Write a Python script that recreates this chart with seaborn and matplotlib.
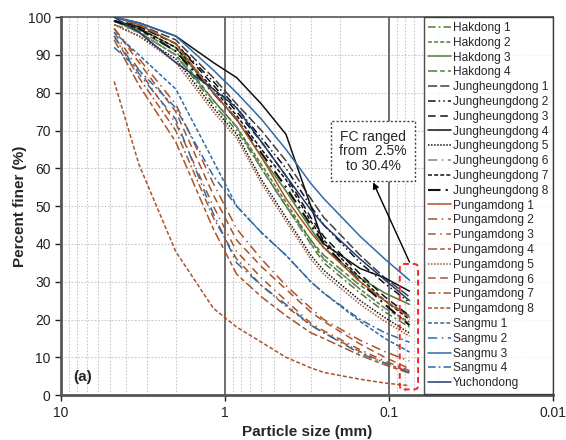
import numpy as np
import pandas as pd
import matplotlib
matplotlib.use("Agg")
import matplotlib.pyplot as plt
import seaborn as sns
from matplotlib.patches import FancyBboxPatch
from matplotlib.transforms import IdentityTransform

# ---------------- data ----------------
sizes = [4.75, 3.35, 2.0, 1.18, 0.85, 0.6, 0.425, 0.3, 0.25, 0.15, 0.106, 0.075]  # mm

hakdong_1 = [99, 96, 90, 77, 70, 60, 50, 40, 35, 27, 22, 18]
hakdong_2 = [99, 96, 90, 78, 71, 61, 51, 41, 36, 28, 23, 19.3]
hakdong_3 = [99, 97, 92, 80, 73, 63, 54, 44, 39, 31, 27, 24]
hakdong_4 = [99, 96.5, 91, 78, 71, 60, 50, 41, 37, 29, 25, 21]
jung_1 = [99, 98, 94, 84, 77, 70, 62, 52, 47, 37, 31, 26]
jung_2 = [99, 97.5, 93, 83, 76, 68, 60, 50, 45, 35, 29.5, 24.5]
jung_3 = [99, 97.5, 93, 82, 75, 67, 58, 47, 42, 32, 26, 21]
jung_4 = [100, 98.5, 95, 88, 84, 77, 69, 50, 40, 33.5, 31, 27.5]
jung_5 = [98, 95, 89, 76, 69, 57, 47, 37, 33, 25, 20.5, 16.4]
jung_6 = [98, 96, 90, 78, 71, 60, 50, 40, 36, 28, 23, 19]
jung_7 = [99, 97, 92, 81, 74, 65, 57, 46, 41, 31, 25, 20]
jung_8 = [99, 97, 91, 80, 73, 64, 55, 45, 40, 30, 24, 18.5]
pung_1 = [100, 98, 93, 80, 73, 63, 52, 43, 39, 30, 25, 20.6]
pung_2 = [97, 89, 77, 56, 44, 36, 29, 23, 20, 14.5, 11.5, 9]
pung_3 = [96, 86, 72, 50, 38, 31, 25, 19, 17, 12, 9, 6.5]
pung_4 = [94, 82, 67, 44, 32, 26, 21, 16.5, 15, 10.5, 8, 5.8]
pung_5 = [98, 95, 88, 75, 68, 56, 46, 36, 32, 24, 19.5, 15.6]
pung_6 = [97, 88, 75, 53, 41, 34, 28, 22, 19.5, 13.5, 10, 7]
pung_7 = [95, 84, 70, 47, 36, 29, 23.5, 18.5, 16.5, 11.5, 8.5, 6.1]
pung_8 = [83, 61, 38, 23, 18, 14, 10, 7.2, 6, 4.2, 3.2, 2.5]
sangmu_1 = [96, 90, 81, 62, 50, 43, 37, 30, 27, 19.5, 15, 11.4]
sangmu_2 = [95, 85, 73, 48, 35, 29, 24, 18.5, 16.5, 11, 8.5, 6]
sangmu_3 = [100, 98.5, 95, 86, 80, 73, 65, 56, 52, 42, 36, 30.4]
sangmu_4 = [92, 86, 76, 58, 50, 43, 37, 30, 27, 20, 16.5, 14]
yuchondong = [100, 96, 88, 81, 76, 67, 58, 49, 45, 36, 30.5, 25]

names = ["Hakdong 1", "Hakdong 2", "Hakdong 3", "Hakdong 4",
         "Jungheungdong 1", "Jungheungdong 2", "Jungheungdong 3", "Jungheungdong 4",
         "Jungheungdong 5", "Jungheungdong 6", "Jungheungdong 7", "Jungheungdong 8",
         "Pungamdong 1", "Pungamdong 2", "Pungamdong 3", "Pungamdong 4",
         "Pungamdong 5", "Pungamdong 6", "Pungamdong 7", "Pungamdong 8",
         "Sangmu 1", "Sangmu 2", "Sangmu 3", "Sangmu 4", "Yuchondong"]
values = [hakdong_1, hakdong_2, hakdong_3, hakdong_4,
          jung_1, jung_2, jung_3, jung_4, jung_5, jung_6, jung_7, jung_8,
          pung_1, pung_2, pung_3, pung_4, pung_5, pung_6, pung_7, pung_8,
          sangmu_1, sangmu_2, sangmu_3, sangmu_4, yuchondong]

x_ticks = [10, 1, 0.1, 0.01]
x_tick_labels = ["10", "1", "0.1", "0.01"]
y_ticks = list(range(0, 101, 10))
fc_min, fc_max = 2.5, 30.4

# ---------------- styles ----------------
GREEN = "#4F7F2E"
BLACK = "#111111"
GRAY = "#808080"
BROWN = "#A9542A"
BLUE = "#2F6AA6"
NAVY = "#1F3A6E"

SOLID = "-"
styles = {
    "Hakdong 1": (GREEN, (0, (5, 2, 1.2, 2))),
    "Hakdong 2": (GREEN, (0, (2.6, 1.4))),
    "Hakdong 3": (GREEN, SOLID),
    "Hakdong 4": (GREEN, (0, (6, 2, 3, 2))),
    "Jungheungdong 1": ("#404040", (0, (6, 2))),
    "Jungheungdong 2": (BLACK, (0, (5, 2, 1, 2, 1, 2))),
    "Jungheungdong 3": (BLACK, (0, (5, 3))),
    "Jungheungdong 4": (BLACK, SOLID),
    "Jungheungdong 5": (BLACK, (0, (1, 1))),
    "Jungheungdong 6": (GRAY, (0, (6, 3, 1, 3))),
    "Jungheungdong 7": (BLACK, (0, (2.6, 1.4))),
    "Jungheungdong 8": (BLACK, (0, (6, 2.5, 1, 2.5))),
    "Pungamdong 1": (BROWN, SOLID),
    "Pungamdong 2": (BROWN, (0, (6, 3, 1, 3))),
    "Pungamdong 3": (BROWN, (0, (5, 3, 1, 3))),
    "Pungamdong 4": (BROWN, (0, (6, 2, 3, 2))),
    "Pungamdong 5": (BROWN, (0, (1, 1))),
    "Pungamdong 6": (BROWN, (0, (5, 3))),
    "Pungamdong 7": (BROWN, (0, (5, 2, 1.2, 2))),
    "Pungamdong 8": (BROWN, (0, (2.6, 1.4))),
    "Sangmu 1": (BLUE, (0, (2.6, 1.4))),
    "Sangmu 2": (BLUE, (0, (6, 3, 1, 3))),
    "Sangmu 3": (BLUE, SOLID),
    "Sangmu 4": (BLUE, (0, (5, 2, 1.2, 2))),
    "Yuchondong": (NAVY, SOLID),
}

rows = []
for n, v in zip(names, values):
    for s, f in zip(sizes, v):
        rows.append({"size": s, "finer": f, "site": n})
df = pd.DataFrame(rows)

# ---------------- figure ----------------
sns.set_theme(style="white")
plt.rcParams["font.family"] = ["Liberation Sans", "DejaVu Sans"]

fig = plt.figure(figsize=(5.66, 4.40), dpi=100)
ax = fig.add_axes([0.108, 0.102, 0.869, 0.859])
ax.set_xscale("log")

for n in names:
    c, ls = styles[n]
    lw = 1.5 if n == "Jungheungdong 8" else 1.1
    sns.lineplot(data=df[df["site"] == n], x="size", y="finer", color=c,
                 linestyle=ls, linewidth=lw, label=n, ax=ax,
                 estimator=None, sort=False, zorder=3)

ax.set_xlim(10, 0.01)
ax.set_ylim(0, 100)
ax.set_xticks(x_ticks, labels=x_tick_labels)
ax.set_yticks(y_ticks)
minor = [m * d for d in (1, 0.1, 0.01) for m in range(2, 10)]
ax.set_xticks(minor, minor=True)
ax.set_xticklabels([], minor=True)
ax.tick_params(axis="both", labelsize=10, colors="#222222", length=4, width=1,
               direction="out", bottom=True, left=True)
ax.tick_params(axis="x", which="minor", length=0)

# grid
ax.grid(False)
for xv in minor:
    ax.axvline(xv, color="#C8C8C8", lw=0.8, ls=(0, (1.5, 1.5)), zorder=1)
for yv in y_ticks[1:-1]:
    ax.axhline(yv, color="#C8C8C8", lw=0.8, ls=(0, (1.5, 1.5)), zorder=1)
for xv in (1, 0.1):
    ax.axvline(xv, color="#555555", lw=1.2, zorder=2)

for side in ["left", "bottom", "top", "right"]:
    ax.spines[side].set_color("#555555")
    ax.spines[side].set_linewidth(1.2)
ax.spines["left"].set_linewidth(2)
ax.spines["bottom"].set_linewidth(2)

ax.set_xlabel("Particle size (mm)", fontsize=11, fontweight="bold", labelpad=4)
ax.set_ylabel("Percent finer (%)", fontsize=11, fontweight="bold", labelpad=0.5)

ax.text(0.025, 0.03, "(a)", transform=ax.transAxes, fontsize=11,
        fontweight="bold", ha="left", va="bottom")

leg = ax.legend(loc="upper right", bbox_to_anchor=(1.0, 1.0), borderaxespad=0,
                fontsize=8.6, frameon=True, fancybox=False, edgecolor="#222222",
                handlelength=1.9, handletextpad=0.15, labelspacing=0.235,
                borderpad=0.4)
leg.get_frame().set_linewidth(1.0)
leg.set_zorder(10)

# annotation
ax.text(0.125, 64.5, "FC ranged\nfrom  2.5%\nto 30.4%", ha="center", va="center",
        fontsize=10, zorder=6, linespacing=1.05,
        bbox=dict(boxstyle="square,pad=0.6", fc="white", ec="#444444",
                  ls=(0, (1.5, 1.5)), lw=1.0))

fig.canvas.draw()
p0 = ax.transData.transform((0.086, fc_min - 1.0))
p1 = ax.transData.transform((0.0665, fc_max + 4.3))
rect = FancyBboxPatch((p0[0], p0[1]), p1[0] - p0[0], p1[1] - p0[1],
                      boxstyle="round,pad=0,rounding_size=4",
                      transform=IdentityTransform(), fill=False,
                      ec="#FF2020", lw=1.4, ls=(0, (3, 2)), zorder=7)
ax.add_artist(rect)

ax.annotate("", xy=(0.125, 56.3), xytext=(0.075, fc_max + 4.8),
            arrowprops=dict(arrowstyle="-|>", color="black", lw=1.0,
                            mutation_scale=9, shrinkA=0, shrinkB=0), zorder=7)

fig.savefig("out.png", dpi=100)
